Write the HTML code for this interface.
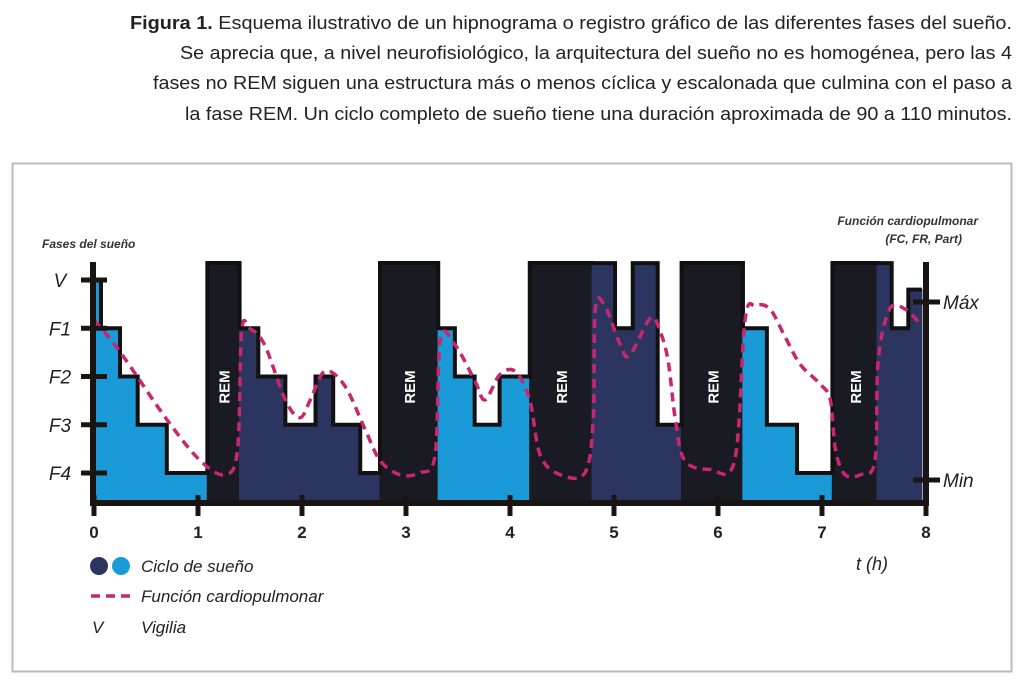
<!DOCTYPE html>
<html><head><meta charset="utf-8"><style>
html,body{margin:0;padding:0;background:#fff;}
svg{display:block;font-family:"Liberation Sans",sans-serif;}
</style></head><body>
<svg id="chart" width="1024" height="688" viewBox="0 0 1024 688" xmlns="http://www.w3.org/2000/svg">
<g font-size="18" fill="#222">
<text x="130" y="29" textLength="882" lengthAdjust="spacingAndGlyphs"><tspan font-weight="bold">Figura 1.</tspan> Esquema ilustrativo de un hipnograma o registro gráfico de las diferentes fases del sueño.</text>
<text x="180" y="59" textLength="832" lengthAdjust="spacingAndGlyphs">Se aprecia que, a nivel neurofisiológico, la arquitectura del sueño no es homogénea, pero las 4</text>
<text x="153" y="89" textLength="859" lengthAdjust="spacingAndGlyphs">fases no REM siguen una estructura más o menos cíclica y escalonada que culmina con el paso a</text>
<text x="185" y="120" textLength="827" lengthAdjust="spacingAndGlyphs">la fase REM. Un ciclo completo de sueño tiene una duración aproximada de 90 a 110 minutos.</text>
</g>
<rect x="12.5" y="163.5" width="999" height="508" fill="#fff" stroke="#bbb" stroke-width="2"/>
<g id="plot"></g>
</svg>
<script>
// Hypnogram segments: start hour, end hour, stage (0=V,1..4=F1..F4, -0.35=top, 'R'=REM), cycle colour
const segStart = [0,0.067,0.25,0.42,0.70,1.09,1.40,1.58,1.84,2.13,2.30,2.56,2.75,3.31,3.47,3.66,3.90,4.19,4.79,5.01,5.18,5.42,5.65,6.24,6.47,6.76,7.10,7.53,7.67,7.83];
const segEnd   = [0.067,0.25,0.42,0.70,1.09,1.40,1.58,1.84,2.13,2.30,2.56,2.75,3.31,3.47,3.66,3.90,4.19,4.79,5.01,5.18,5.42,5.65,6.24,6.47,6.76,7.10,7.53,7.67,7.83,7.96];
const segStage = [0,1,2,3,4,'R',1,2,3,2,3,4,'R',1,2,3,2,'R',-0.35,1,-0.35,3,'R',1,3,4,'R',-0.35,1,0.2];
const segCycle = [1,1,1,1,1,0,2,2,2,2,2,2,0,1,1,1,1,0,2,2,2,2,0,1,1,1,0,2,2,2];
// Cardiopulmonary function (0=Min, 1=Max)
const cpHours = [0,.25,.70,1.02,1.26,1.38,1.42,1.50,1.64,1.84,1.98,2.08,2.22,2.41,2.61,2.75,2.94,3.13,3.28,3.33,3.47,3.66,3.76,3.90,4.05,4.19,4.29,4.48,4.72,4.80,4.82,4.91,5.06,5.15,5.35,5.44,5.52,5.59,5.68,5.92,6.16,6.26,6.36,6.50,6.64,6.79,6.98,7.08,7.13,7.22,7.37,7.51,7.54,7.65,7.80,7.94];
const cpValues = [.90,.72,.34,.11,.03,.17,.84,.85,.76,.45,.35,.45,.61,.53,.28,.11,.03,.04,.14,.79,.76,.56,.45,.59,.61,.45,.14,.03,.04,.34,.96,.98,.76,.70,.91,.84,.67,.34,.11,.06,.11,.90,.98,.96,.81,.65,.54,.45,.17,.03,.03,.11,.67,.96,.96,.88];
const xTicks = [0,1,2,3,4,5,6,7,8];
const stageLabels = ['V','F1','F2','F3','F4'];

const NS='http://www.w3.org/2000/svg';
const g=document.getElementById('plot');
const X=h=>94+104*h;
const Y=s=>s==='R'?263:280+48.25*s;
const B=501;
const CP=v=>480-178*v;
function mk(tag,attrs,parent){const e=document.createElementNS(NS,tag);for(const k in attrs)e.setAttribute(k,attrs[k]);(parent||g).appendChild(e);return e;}
const colors=['#1a1a22','#1a9bd7','#2c3560'];
// bars
for(let i=0;i<segStart.length;i++){
  const c=colors[segCycle[i]];
  const r=mk('rect',{x:X(segStart[i]),y:Y(segStage[i]),width:X(segEnd[i])-X(segStart[i]),height:B-Y(segStage[i]),fill:c,stroke:c,'stroke-width':'1.2'});
  
  
}
// step outline
let d='';
for(let i=0;i<segStart.length;i++){
  const y=Y(segStage[i]);
  d+=(i===0?'M':'L')+X(segStart[i])+','+y+'L'+X(segEnd[i])+','+y;
}
const ol=mk('path',{d:d,fill:'none',stroke:'#111','stroke-width':'4'});


for(let i=0;i<segStart.length;i++){
  if(segStage[i]==='R'){
    const cx=(X(segStart[i])+X(segEnd[i]))/2;
    const t=mk('text',{x:0,y:0,transform:`translate(${cx+6},387) rotate(-90)`,'text-anchor':'middle',fill:'#fff','font-size':'15','font-weight':'bold'});
    t.textContent='REM';
    
    
  }
}
// cp curve (catmull-rom)
const pts=cpHours.map((h,i)=>[X(h),CP(cpValues[i])]);
let cd='M'+pts[0][0]+','+pts[0][1];
for(let i=0;i<pts.length-1;i++){
  const p0=pts[Math.max(0,i-1)],p1=pts[i],p2=pts[i+1],p3=pts[Math.min(pts.length-1,i+2)];
  cd+=`C${p1[0]+(p2[0]-p0[0])/6},${p1[1]+(p2[1]-p0[1])/6} ${p2[0]-(p3[0]-p1[0])/6},${p2[1]-(p3[1]-p1[1])/6} ${p2[0]},${p2[1]}`;
}
const cl=mk('path',{d:cd,fill:'none',stroke:'#c8266e','stroke-width':'3.5','stroke-dasharray':'9 6'});


// axes
const ax=mk('path',{d:'M93,262V503H926V262',fill:'none',stroke:'#1a1414','stroke-width':'6'});


xTicks.forEach(h=>{
  const t=mk('line',{x1:X(h),x2:X(h),y1:495,y2:516,stroke:'#1a1414','stroke-width':'5'});
  
  
  const l=mk('text',{x:X(h),y:538,'text-anchor':'middle','font-size':'17','font-weight':'bold',fill:'#222'});
  l.textContent=h;
  
  
});
stageLabels.forEach((s,i)=>{
  const t=mk('line',{x1:81,x2:107,y1:Y(i),y2:Y(i),stroke:'#1a1414','stroke-width':'5'});
  
  
  const l=mk('text',{x:60,y:Y(i)+7,'text-anchor':'middle','font-size':'19','font-style':'italic',fill:'#222'});
  l.textContent=s;
  
  
});
[['Máx',1],['Min',0]].forEach(([s,v])=>{
  const t=mk('line',{x1:913,x2:940,y1:CP(v),y2:CP(v),stroke:'#1a1414','stroke-width':'5'});
  
  
  const l=mk('text',{x:943,y:CP(v)+7,'font-size':'19','font-style':'italic',fill:'#222'});
  l.textContent=s;
  
  
});
function txt(s,attrs,name){const e=mk('text',attrs);e.textContent=s;return e;}
txt('Fases del sueño',{x:42,y:248,'font-size':'12','font-style':'italic','font-weight':'bold',fill:'#333'},'y-axis-title');
txt('Función cardiopulmonar',{x:978,y:225,'text-anchor':'end','font-size':'12','font-style':'italic','font-weight':'bold',fill:'#333'},'right-axis-title');
txt('(FC, FR, Part)',{x:962,y:243,'text-anchor':'end','font-size':'12','font-style':'italic','font-weight':'bold',fill:'#333'},'right-axis-subtitle');
txt('t (h)',{x:856,y:570,'font-size':'18','font-style':'italic',fill:'#222'},'x-axis-title');
// legend
const c1=mk('circle',{cx:99,cy:566,r:9,fill:'#2c3560'});


const c2=mk('circle',{cx:121,cy:566,r:9,fill:'#1a9bd7'});


txt('Ciclo de sueño',{x:141,y:572,'font-size':'17','font-style':'italic',fill:'#222'},'legend-cycle-label');
const ld=mk('line',{x1:91,x2:132,y1:596,y2:596,stroke:'#c8266e','stroke-width':'3.5','stroke-dasharray':'9 6'});


txt('Función cardiopulmonar',{x:141,y:602,'font-size':'17','font-style':'italic',fill:'#222'},'legend-cp-label');
txt('V',{x:92,y:633,'font-size':'17','font-style':'italic',fill:'#222'},'legend-v-symbol');
txt('Vigilia',{x:141,y:633,'font-size':'17','font-style':'italic',fill:'#222'},'legend-v-label');
</script>
</body></html>
